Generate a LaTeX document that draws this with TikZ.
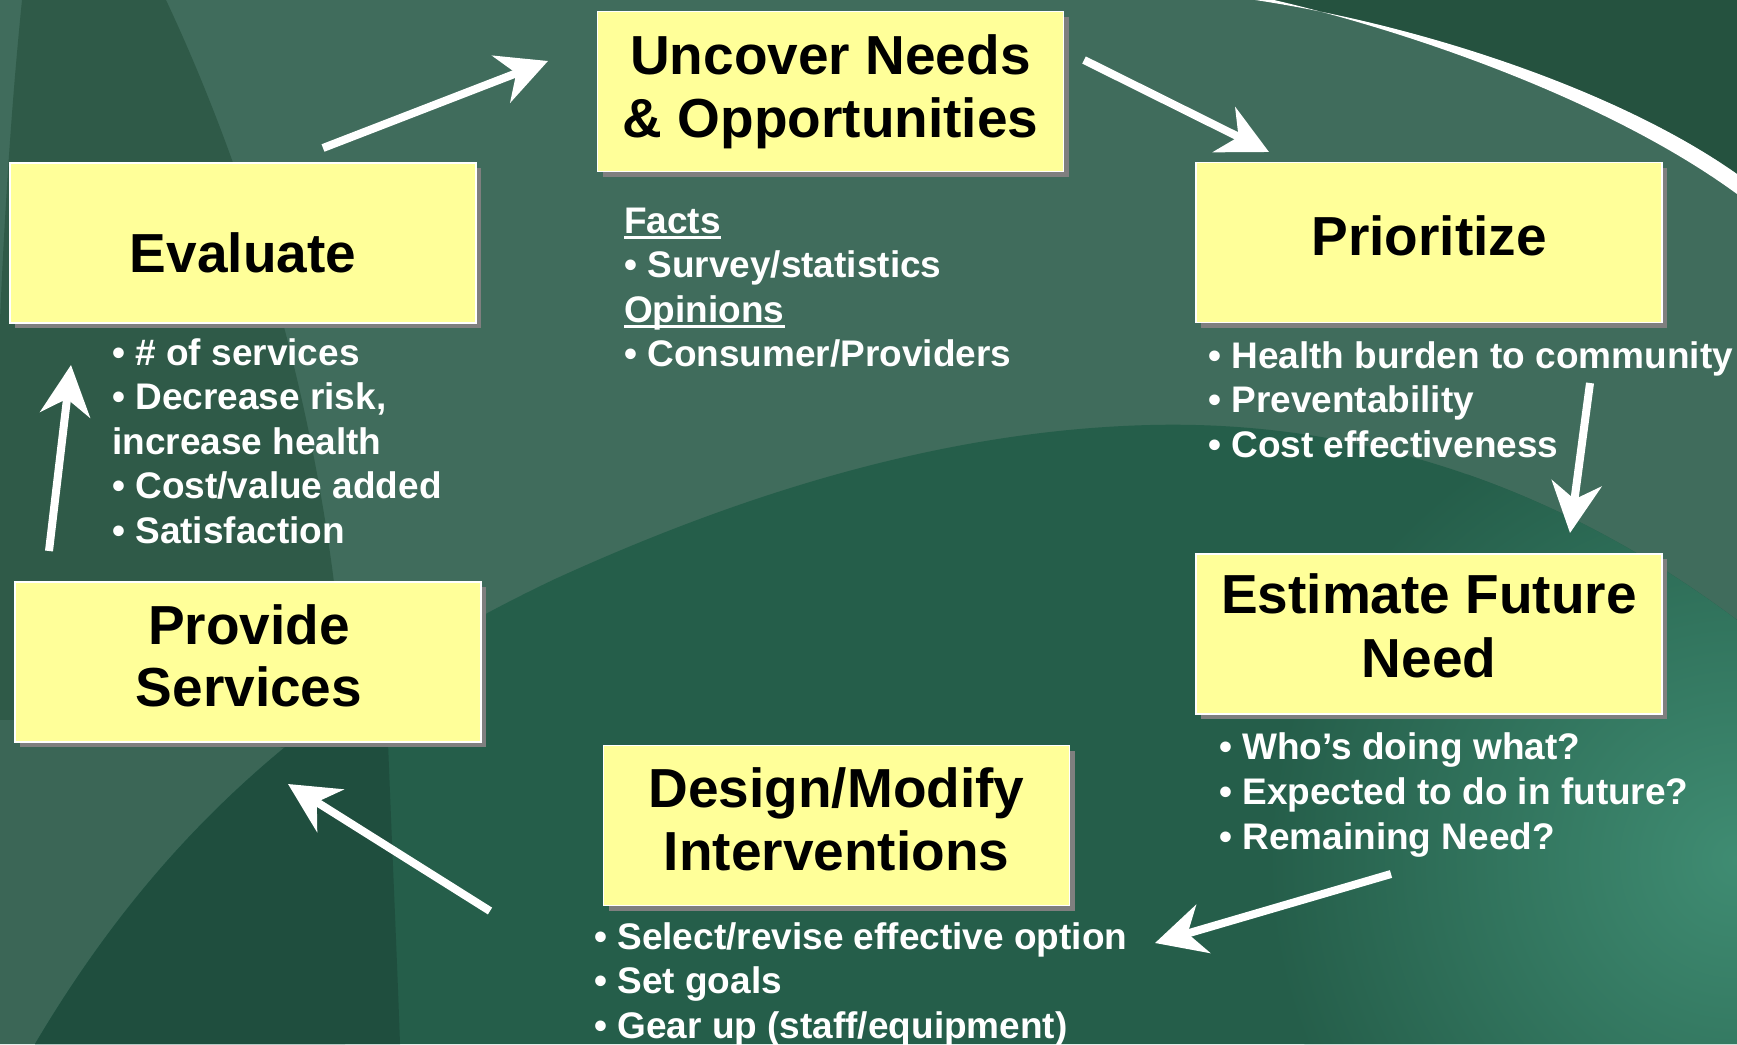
\documentclass[tikz,border=0pt]{standalone}
\usepackage{fontspec}
\setmainfont{Liberation Sans}
\usetikzlibrary{arrows.meta,shadows}
\definecolor{boxfill}{HTML}{FFFF99}
\definecolor{shadowgray}{HTML}{7F7F7F}
\definecolor{bgmid}{HTML}{406C5C}
\definecolor{bgband}{HTML}{2F5A48}
\definecolor{bgstrip}{HTML}{3B6656}
\definecolor{bgdome}{HTML}{255E4A}
\definecolor{bgdark}{HTML}{1F4E3E}
\definecolor{bgtop}{HTML}{25523F}
\definecolor{bgteal}{HTML}{3F8C72}
\newcommand\myul[1]{\setbox0\hbox{#1}\rlap{\rule[-5.5pt]{\wd0}{2.6pt}}\box0}
\begin{document}
\begin{tikzpicture}[x=1pt,y=-1pt,
  stepbox/.style={rectangle, fill=boxfill, draw=white, line width=1.8pt,
    minimum width=466pt, minimum height=160pt, inner sep=0pt,
    drop shadow={shadow xshift=5pt, shadow yshift=-5pt, fill=shadowgray, opacity=1}},
  title/.style={font=\fontsize{55}{63}\selectfont\bfseries, text=black, inner sep=0pt, anchor=base},
  bul/.style={font=\fontsize{37}{44}\selectfont\bfseries, text=white, inner sep=0pt, anchor=base west},
  flow/.style={draw=white, line width=8pt, -{Stealth[length=50pt,width=50pt,inset=16pt]}}
]
\useasboundingbox (0,0) rectangle (1737,1044);
\clip (0,0) rectangle (1737,1044);
% background
\fill[bgmid] (0,0) rectangle (1737,1044);
\fill[bgband] (22,0) -- (166,0) .. controls (260,200) and (330,450) .. (345,700) -- (345,760) .. controls (200,730) and (80,720) .. (0,720) -- (0,320) .. controls (6,180) and (14,80) .. (22,0) -- cycle;
\fill[bgstrip] (0,720) .. controls (80,720) and (200,730) .. (345,760) -- (345,1044) -- (0,1044) -- cycle;
\fill[bgdome] (35,1044) .. controls (150,850) and (300,700) .. (555,579) .. controls (750,490) and (950,430) .. (1150,425) .. controls (1350,420) and (1550,480) .. (1737,620) -- (1737,1044) -- cycle;
\begin{scope}
  \clip (35,1044) .. controls (150,850) and (300,700) .. (555,579) .. controls (750,490) and (950,430) .. (1150,425) .. controls (1350,420) and (1550,480) .. (1737,620) -- (1737,1044) -- cycle;
  \fill[bgdark] (0,500) -- (380,500) .. controls (385,700) and (395,900) .. (400,1044) -- (0,1044) -- cycle;
  \shade[inner color=bgteal, outer color=bgdome] (1737,860) circle (470);
\end{scope}
\fill[bgtop] (1255,0) .. controls (1415,24) and (1615,88) .. (1737,174) -- (1737,0) -- cycle;
\fill[white] (1255,0) .. controls (1415,24) and (1615,88) .. (1737,174) -- (1737,194) .. controls (1610,101) and (1412,32) .. (1274,0) -- cycle;
% boxes
\node[stepbox] (uncover) at (830.5,91.5) {};
\node[stepbox] (prior) at (1429,242.5) {};
\node[stepbox] (estim) at (1429,634) {};
\node[stepbox] (design) at (836.5,825.5) {};
\node[stepbox] (provide) at (248,662) {};
\node[stepbox] (evaluate) at (243,243) {};
% titles
\node[title] (tu1) at (830.5,74) {Uncover Needs};
\node[title] (tu2) at (830.5,137) {\& Opportunities};
\node[title] (tp) at (1429,255) {Prioritize};
\node[title] (te1) at (1429,613) {Estimate Future};
\node[title] (te2) at (1429,677) {Need};
\node[title] (td1) at (836.5,807) {Design/Modify};
\node[title] (td2) at (836.5,870) {Interventions};
\node[title] (tpr1) at (249,644) {Provide};
\node[title] (tpr2) at (249,706) {Services};
\node[title] (tev) at (243,272) {Evaluate};
% bullet texts
\node[bul] (f1) at (624,233) {\myul{Facts}};
\node[bul] (f2) at (624,277) {• Survey/statistics};
\node[bul] (f3) at (624,322) {\myul{Opinions}};
\node[bul] (f4) at (624,366) {• Consumer/Providers};
\node[bul] (e1) at (112,365) {• \# of services};
\node[bul] (e2) at (112,409.5) {• Decrease risk,};
\node[bul] (e3) at (112,454) {increase health};
\node[bul] (e4) at (112,498.5) {• Cost/value added};
\node[bul] (e5) at (112,543) {• Satisfaction};
\node[bul] (p1) at (1208,368) {• Health burden to community};
\node[bul] (p2) at (1208,412.5) {• Preventability};
\node[bul] (p3) at (1208,457) {• Cost effectiveness};
\node[bul] (s1) at (1219,759) {• Who’s doing what?};
\node[bul] (s2) at (1219,804) {• Expected to do in future?};
\node[bul] (s3) at (1219,849) {• Remaining Need?};
\node[bul] (d1) at (594,949) {• Select/revise effective option};
\node[bul] (d2) at (594,993) {• Set goals};
\node[bul] (d3) at (594,1038) {• Gear up (staff/equipment)};
% arrows
\coordinate (a1s) at (323,148); \coordinate (a1e) at (548,61);
\coordinate (a2s) at (1084,60); \coordinate (a2e) at (1269,152);
\coordinate (a3s) at (1590,383); \coordinate (a3e) at (1570,533);
\coordinate (a4s) at (1391,874); \coordinate (a4e) at (1155,943);
\coordinate (a5s) at (490,911); \coordinate (a5e) at (288,784);
\coordinate (a6s) at (49,551); \coordinate (a6e) at (71,365);
\draw[flow] (a1s) -- (a1e);
\draw[flow] (a2s) -- (a2e);
\draw[flow] (a3s) -- (a3e);
\draw[flow] (a4s) -- (a4e);
\draw[flow] (a5s) -- (a5e);
\draw[flow] (a6s) -- (a6e);
\end{tikzpicture}
\end{document}
